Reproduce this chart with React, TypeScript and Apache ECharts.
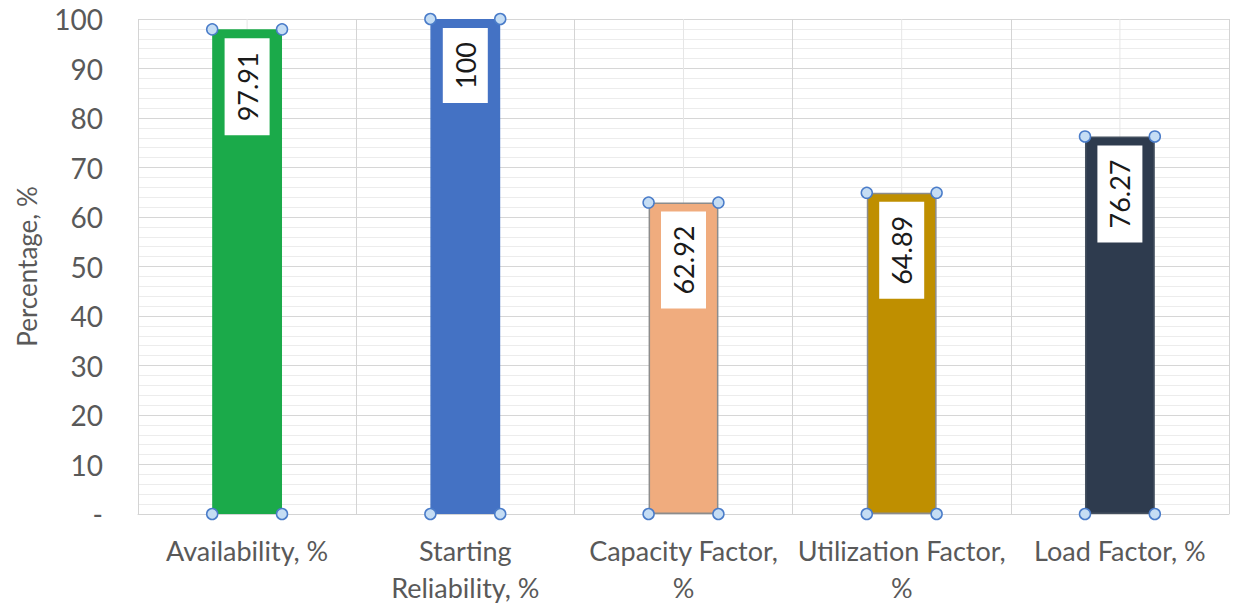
import React, { useEffect, useRef } from "react";
import * as echarts from "echarts";

const categories = [
  "Availability, %",
  "Starting\nReliability, %",
  "Capacity Factor,\n%",
  "Utilization Factor,\n%",
  "Load Factor, %",
];
const values = [97.91, 100, 62.92, 64.89, 76.27];
const barColors = ["#1BAA4A", "#4472C4", "#F0AC7E", "#BF8F00", "#2E3B4E"];
const barBorders = ["#1BAA4A", "#4472C4", "#8C8C8C", "#8C8C8C", "#44505F"];
const yTicks = [0, 10, 20, 30, 40, 50, 60, 70, 80, 90, 100];

const FONT = "Lato";
const BAR_FRAC = 0.32;

export default function App() {
  const ref = useRef<HTMLDivElement>(null);
  useEffect(() => {
    if (!ref.current) return;
    const chart = echarts.init(ref.current, null, { renderer: "svg" });
    chart.setOption({
      animation: false,
      backgroundColor: "#ffffff",
      grid: { left: 138, right: 4, top: 19, bottom: 95 },
      xAxis: {
        type: "category",
        data: categories,
        axisLine: { show: true, lineStyle: { color: "#d4d4d4", width: 1 } },
        axisTick: { show: false },
        splitLine: { show: true, lineStyle: { color: "#d4d4d4", width: 1 } },
        axisLabel: {
          interval: 0,
          color: "#595959",
          fontFamily: FONT,
          fontSize: 27,
          lineHeight: 37,
          margin: 18,
        },
      },
      yAxis: {
        type: "value",
        min: yTicks[0],
        max: yTicks[yTicks.length - 1],
        interval: 10,
        name: "Percentage, %",
        nameLocation: "middle",
        nameGap: 98,
        nameTextStyle: { color: "#595959", fontFamily: FONT, fontSize: 26 },
        axisLine: { show: false },
        axisTick: { show: false },
        axisLabel: {
          color: "#595959",
          fontFamily: FONT,
          fontSize: 28,
          margin: 35,
          formatter: (v: number) => (v === 0 ? "-" : String(v)),
        },
        splitLine: { show: true, lineStyle: { color: "#d6d6d6", width: 1 } },
        minorTick: { show: false, splitNumber: 5 },
        minorSplitLine: { show: true, lineStyle: { color: "#ececec", width: 1 } },
      },
      series: [
        {
          type: "custom",
          z: 1,
          silent: true,
          data: categories.map((_, i) => [i, yTicks[yTicks.length - 1]]),
          renderItem: (params: any, api: any) => {
            const top = api.coord([api.value(0), api.value(1)]);
            const bot = api.coord([api.value(0), 0]);
            return {
              type: "line",
              shape: { x1: top[0], y1: top[1], x2: bot[0], y2: bot[1] },
              style: { stroke: "#e6e6e6", lineWidth: 1 },
            };
          },
        },
        {
          type: "bar",
          z: 2,
          barWidth: BAR_FRAC * 100 + "%",
          data: values.map((v, i) => ({
            value: v,
            itemStyle: {
              color: barColors[i],
              borderColor: barBorders[i],
              borderWidth: 1.5,
            },
          })),
          label: {
            show: true,
            position: "insideTop",
            distance: 9,
            rotate: 90,
            align: "right",
            verticalAlign: "middle",
            color: "#1a1a1a",
            fontFamily: FONT,
            fontSize: 27,
            lineHeight: 27,
            backgroundColor: "#ffffff",
            padding: [9, 14, 9, 14],
            formatter: (p: any) => String(p.value),
          },
        },
        {
          type: "custom",
          z: 5,
          silent: true,
          data: values.map((v, i) => [i, v]),
          renderItem: (params: any, api: any) => {
            const top = api.coord([api.value(0), api.value(1)]);
            const bot = api.coord([api.value(0), 0]);
            const w = api.size([1, 0])[0] * BAR_FRAC;
            const xs = [top[0] - w / 2, top[0] + w / 2];
            const ys = [top[1], bot[1]];
            const children: any[] = [];
            ys.forEach((y) =>
              xs.forEach((x) =>
                children.push({
                  type: "circle",
                  shape: { cx: x, cy: y, r: 5.5 },
                  style: { fill: "#C5DDF4", stroke: "#4A7CC9", lineWidth: 1.5 },
                })
              )
            );
            return { type: "group", children };
          },
        },
      ],
    });
    return () => chart.dispose();
  }, []);
  return (
    <div
      ref={ref}
      style={{ position: "absolute", left: 0, top: 0, width: 1233, height: 609 }}
    />
  );
}
